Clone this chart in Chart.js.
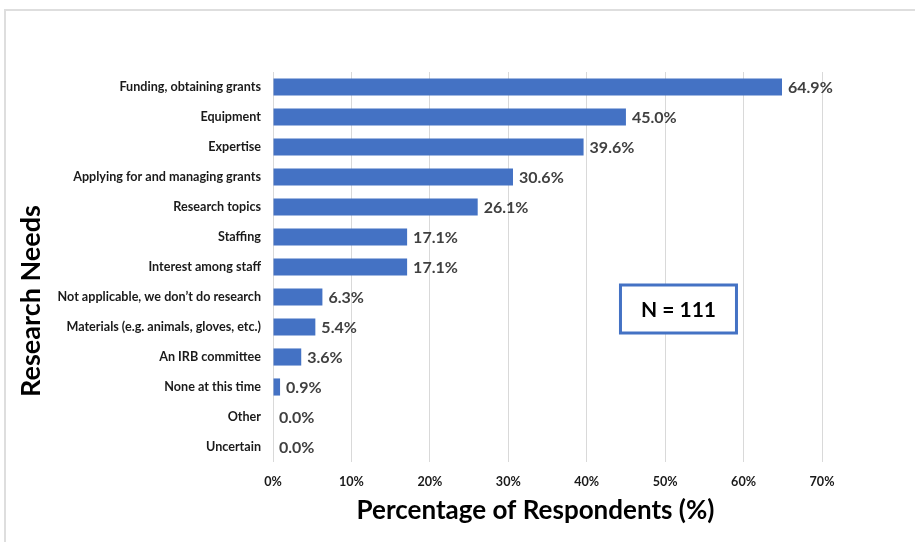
<!DOCTYPE html>
<html>
<head>
<meta charset="utf-8">
<script src="https://cdn.jsdelivr.net/npm/chart.js@4.4.0/dist/chart.umd.min.js"></script>
<style>
  html, body { margin: 0; padding: 0; background: #ffffff; }
  #wrap { position: relative; width: 915px; height: 542px; overflow: hidden; }
  #frame {
    position: absolute; left: 4px; top: 9px; right: -10px; bottom: -10px;
    border-top: 2px solid #dedede; border-left: 2px solid #dedede;
  }
  canvas { position: absolute; left: 0; top: 0; }
</style>
</head>
<body>
<div id="wrap">
  <div id="frame"></div>
  <canvas id="needsChart" width="915" height="542"></canvas>
</div>
<script>
// ============================================================
// DATA
// ============================================================

const needLabels = [
  "Funding, obtaining grants",
  "Equipment",
  "Expertise",
  "Applying for and managing grants",
  "Research topics",
  "Staffing",
  "Interest among staff",
  "Not applicable, we don\u2019t do research",
  "Materials (e.g. animals, gloves, etc.)",
  "An IRB committee",
  "None at this time",
  "Other",
  "Uncertain"
];

const needValues = [64.9, 45.0, 39.6, 30.6, 26.1, 17.1, 17.1, 6.3, 5.4, 3.6, 0.9, 0.0, 0.0];

const xTickValues = [0, 10, 20, 30, 40, 50, 60, 70];

const sampleNote = "N = 111";
const xTitle = "Percentage of Respondents (%)";
const yTitle = "Research Needs";

const FONT = "Lato, 'Open Sans', sans-serif";
const BAR_BLUE = "#4472C4";

// ============================================================
// PLUGINS
// ============================================================

// value labels at the end of each bar
const valueLabelPlugin = {
  id: "valueLabels",
  afterDatasetsDraw(chart) {
    const ctx = chart.ctx;
    const meta = chart.getDatasetMeta(0);
    ctx.save();
    ctx.font = "bold 16px " + FONT;
    ctx.fillStyle = "#404040";
    ctx.textAlign = "left";
    ctx.textBaseline = "middle";
    meta.data.forEach((bar, i) => {
      ctx.fillText(needValues[i].toFixed(1) + "%", bar.x + 6, bar.y + 1);
    });
    ctx.restore();
  }
};

// axis titles and the "N =" box
const extrasPlugin = {
  id: "extras",
  afterDraw(chart) {
    const ctx = chart.ctx;
    const area = chart.chartArea;
    const xScale = chart.scales.x;
    const yScale = chart.scales.y;

    ctx.save();

    // x title
    ctx.font = "bold 26px " + FONT;
    ctx.fillStyle = "#000000";
    ctx.textAlign = "center";
    ctx.textBaseline = "middle";
    ctx.fillText(xTitle, (area.left + area.right) / 2 - 12, area.bottom + 49);

    // y title
    ctx.save();
    ctx.font = "bold 27px " + FONT;
    ctx.translate(31, (area.top + area.bottom) / 2 + 34);
    ctx.rotate(-Math.PI / 2);
    ctx.fillText(yTitle, 0, 0);
    ctx.restore();

    // N box
    const cx = xScale.getPixelForValue(51.7);
    const cy = yScale.getPixelForValue(7.4);
    const w = 116, h = 48;
    ctx.fillStyle = "#ffffff";
    ctx.fillRect(cx - w / 2, cy - h / 2, w, h);
    ctx.strokeStyle = BAR_BLUE;
    ctx.lineWidth = 3;
    ctx.strokeRect(cx - w / 2, cy - h / 2, w, h);
    ctx.font = "bold 21px " + FONT;
    ctx.fillStyle = "#000000";
    ctx.fillText(sampleNote, cx, cy + 1);

    ctx.restore();
  }
};

// ============================================================
// CHART
// ============================================================

new Chart(document.getElementById("needsChart"), {
  type: "bar",
  data: {
    labels: needLabels,
    datasets: [
      {
        data: needValues,
        backgroundColor: BAR_BLUE,
        borderWidth: 0,
        categoryPercentage: 1,
        barPercentage: 0.57
      }
    ]
  },
  options: {
    indexAxis: "y",
    responsive: false,
    animation: false,
    devicePixelRatio: 1,
    layout: {
      padding: { top: 72, right: 93, left: 0, bottom: 0 }
    },
    plugins: {
      legend: { display: false },
      tooltip: { enabled: false }
    },
    scales: {
      x: {
        type: "linear",
        min: 0,
        max: 70,
        afterBuildTicks(scale) {
          scale.ticks = xTickValues.map(v => ({ value: v }));
        },
        afterFit(scale) {
          scale.height = 80;
        },
        grid: {
          color: "#d9d9d9",
          lineWidth: 1,
          drawTicks: false
        },
        border: { display: false },
        ticks: {
          padding: 12,
          color: "#1a1a1a",
          font: { family: FONT, size: 12.6, weight: "bold" },
          callback: value => value + "%"
        }
      },
      y: {
        afterFit(scale) {
          scale.width = 273;
        },
        grid: { display: false, drawTicks: false },
        border: { display: false },
        ticks: {
          padding: 12,
          color: "#1a1a1a",
          font: { family: FONT, size: 12.6, weight: "bold" }
        }
      }
    }
  },
  plugins: [valueLabelPlugin, extrasPlugin]
});
</script>
</body>
</html>
